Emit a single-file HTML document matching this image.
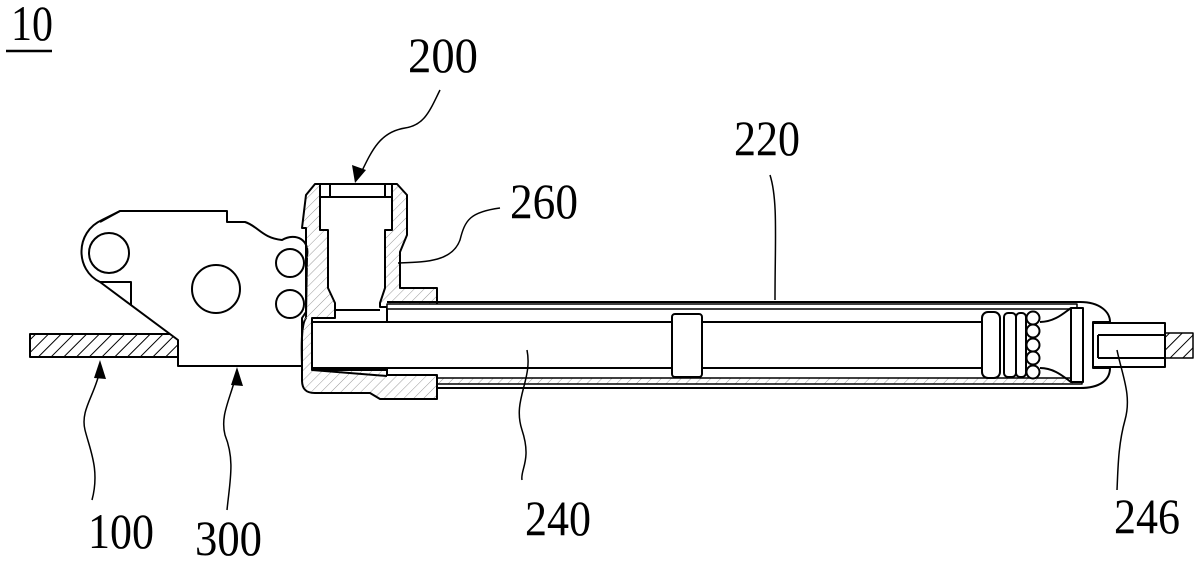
<!DOCTYPE html>
<html><head><meta charset="utf-8"><style>html,body{margin:0;padding:0;background:#fff}svg{display:block}</style></head>
<body>
<svg width="1200" height="563" viewBox="0 0 1200 563" xmlns="http://www.w3.org/2000/svg">
<defs>
<pattern id="h" width="7" height="7" patternUnits="userSpaceOnUse" patternTransform="rotate(45)">
<line x1="0" y1="0" x2="0" y2="7" stroke="#999" stroke-width="1"/></pattern>
<pattern id="hd" width="9" height="9" patternUnits="userSpaceOnUse" patternTransform="rotate(45)">
<line x1="0" y1="0" x2="0" y2="9" stroke="#000" stroke-width="2"/></pattern>
</defs>
<g fill="none" stroke="#000" stroke-width="2" stroke-linejoin="round">
<rect x="30" y="334" width="148" height="23" fill="url(#hd)"/>
<path d="M120,211 L227,211 L227,222 L245,222 C258,226 262,238 282,240 C296,232 310,240 307,256 L306,318 C300,325 302,360 302,366 L178,366 L178,340 L100,282 C75,270 75,232 102,220 Z" fill="#fff"/>
<path d="M100,222 L120,211"/>
<path d="M100,282 L131,282 L131,305"/>
<circle cx="109" cy="253" r="20"/>
<circle cx="216" cy="289" r="24"/>
<circle cx="290" cy="263" r="14"/>
<circle cx="290" cy="304" r="14"/>
<!-- housing -->
<path d="M315,184 L397,184 L407,195 L407,235 L400,252 L400,288 L437,288 L437,307 L387,307 L387,375 L437,375 L437,399 L380,399 L370,393 L315,393 C305,393 302,388 302,380 L302,318 L306,312 L306,228 L302,228 L306,195 Z" fill="url(#h)"/>
<path d="M320,184 L320,230 L328,230 L328,288 L335,303 L335,318 L312,318 L312,370 L387,370 L387,307 L380,307 L380,303 L385,288 L385,230 L392,230 L392,184 Z" fill="#fff"/>
<path d="M320,197 L392,197 M330,184 L330,197 M385,184 L385,197 M335,310 L380,310"/>
<!-- tube -->
<path d="M387,302 L1080,302 C1100,302 1110,312 1110,322 L1093,322 L1093,368 L1110,368 C1110,380 1100,388 1080,388 L437,388"/>
<rect x="437" y="378" width="645" height="6" fill="url(#h)" stroke-width="1.5"/>
<path d="M387,375 L437,375"/>
<rect x="387" y="304" width="690" height="5" fill="#fff" stroke-width="1.5"/>
<!-- rod -->
<rect x="312" y="322" width="670" height="46" fill="#fff"/>
<path d="M312,370 L387,376"/>
<rect x="672" y="314" width="30" height="63" rx="3" fill="#fff"/>
<rect x="982" y="312" width="18" height="66" rx="6" fill="#fff"/>
<rect x="1004" y="313" width="12" height="64" rx="4" fill="#fff"/>
<rect x="1016" y="313" width="10" height="64" rx="4" fill="#fff"/>
<circle cx="1033" cy="318" r="6.5" fill="#fff"/><circle cx="1033" cy="331" r="6.5" fill="#fff"/><circle cx="1033" cy="345" r="6.5" fill="#fff"/><circle cx="1033" cy="358" r="6.5" fill="#fff"/><circle cx="1033" cy="372" r="6.5" fill="#fff"/>
<path d="M1040,322 C1055,322 1065,312 1071,308 M1040,368 C1055,368 1065,378 1071,382"/>
<rect x="1071" y="308" width="12" height="74" fill="#fff"/>
<rect x="1093" y="323" width="72" height="44" fill="#fff"/>
<path d="M1098,335 L1165,335 M1098,358 L1165,358 M1098,335 L1098,358"/>
<rect x="1165" y="333" width="28" height="25" fill="url(#hd)" stroke-width="1.5"/>
</g>
<g fill="none" stroke="#000" stroke-width="1.5">
<path d="M440,90 C430,110 425,125 405,128 C380,132 372,150 360,175"/>
<path d="M500,208 C470,212 465,220 460,240 C452,262 425,262 398,263"/>
<path d="M770,175 C778,200 775,240 775,300"/>
<path d="M527,350 C533,380 512,400 522,430 C532,460 520,470 522,480"/>
<path d="M1117,350 C1122,375 1132,395 1125,420 C1118,445 1118,470 1117,490"/>
<path d="M100,370 C95,395 80,410 85,430 C90,450 100,470 92,500"/>
<path d="M237,372 C230,400 220,415 225,435 C235,460 230,480 227,510"/>
</g>
<g fill="#000">
<path d="M355,183 L352,165 L366,170 Z"/>
<path d="M100,360 L94,378 L106,379 Z"/>
<path d="M237,367 L231,385 L243,386 Z"/>
</g>
<g font-family="'Liberation Serif',serif" font-size="50" fill="#000">
<text x="11" y="40" textLength="42" lengthAdjust="spacingAndGlyphs">10</text>
<text x="408" y="72" textLength="70" lengthAdjust="spacingAndGlyphs">200</text>
<text x="510" y="218" textLength="68" lengthAdjust="spacingAndGlyphs">260</text>
<text x="734" y="155" textLength="66" lengthAdjust="spacingAndGlyphs">220</text>
<text x="525" y="535" textLength="66" lengthAdjust="spacingAndGlyphs">240</text>
<text x="1114" y="533" textLength="66" lengthAdjust="spacingAndGlyphs">246</text>
<text x="88" y="548" textLength="66" lengthAdjust="spacingAndGlyphs">100</text>
<text x="195" y="555" textLength="67" lengthAdjust="spacingAndGlyphs">300</text>
</g>
<line x1="6" y1="51" x2="52" y2="51" stroke="#000" stroke-width="2.5"/>
</svg>
</body></html>
